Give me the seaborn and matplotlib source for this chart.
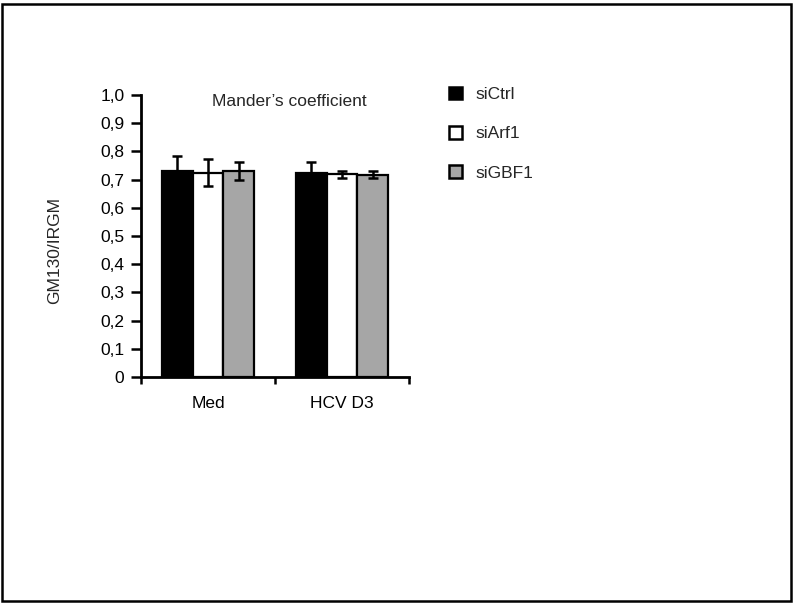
import matplotlib
matplotlib.use("Agg")
import matplotlib.pyplot as plt
import matplotlib.patches as mpatches
import pandas as pd
import seaborn as sns

# values
conditions = ["Med", "HCV D3"]
groups = ["siCtrl", "siArf1", "siGBF1"]
means_ctrl = [0.732, 0.722]
means_arf1 = [0.725, 0.719]
means_gbf1 = [0.730, 0.717]
err_ctrl = [0.053, 0.040]
err_arf1 = [0.048, 0.012]
err_gbf1 = [0.033, 0.013]
yticks = [0, 0.1, 0.2, 0.3, 0.4, 0.5, 0.6, 0.7, 0.8, 0.9, 1.0]

colors = {"siCtrl": "#000000", "siArf1": "#ffffff", "siGBF1": "#a6a6a6"}
FS = 12.5

df = pd.DataFrame({
    "condition": conditions * 3,
    "group": [g for g in groups for _ in conditions],
    "value": means_ctrl + means_arf1 + means_gbf1,
    "err": err_ctrl + err_arf1 + err_gbf1,
})

sns.set_style("white")
plt.rcParams["font.family"] = ["Liberation Sans", "DejaVu Sans"]

fig = plt.figure(figsize=(7.96, 6.04), dpi=100)
W, H = 796, 604
ax = fig.add_axes([141 / W, 1 - 377 / H, (409 - 141) / W, (377 - 95) / H])

sns.barplot(df, x="condition", y="value", hue="group", order=conditions,
            hue_order=groups, palette=colors, saturation=1, width=0.69,
            edgecolor="black", linewidth=1.6, errorbar=None, legend=False, ax=ax)

# error bars on top of each bar, positioned from the drawn patches
for container, g in zip(ax.containers, groups):
    sub = df[df.group == g].set_index("condition").loc[conditions]
    xs = [p.get_x() + p.get_width() / 2 for p in container]
    ax.errorbar(xs, sub["value"], yerr=sub["err"], fmt="none", ecolor="black",
                elinewidth=1.8, capsize=3.8, capthick=1.8, zorder=5)

ax.set_xlim(-0.5, 1.5)
ax.set_ylim(0, 1.0)
ax.set_yticks(yticks)
ax.set_yticklabels(["0"] + [f"{v:.1f}".replace(".", ",") for v in yticks[1:]])
ax.set_xticks([0, 1])
ax.set_xticklabels(conditions)
ax.set_xticks([-0.5, 0.5, 1.5], minor=True)
ax.tick_params(axis="x", which="major", bottom=True, length=0, pad=14, labelsize=FS)
ax.tick_params(axis="x", which="minor", bottom=True, length=5, width=1.8,
               direction="out", color="black")
ax.tick_params(axis="y", left=True, length=7, width=1.8, direction="out",
               color="black", labelsize=FS, pad=5)
ax.tick_params(axis="both", labelcolor="black")
ax.set_xlabel("")
ax.set_ylabel("")
for s in ["top", "right"]:
    ax.spines[s].set_visible(False)
for s in ["left", "bottom"]:
    ax.spines[s].set_color("black")
    ax.spines[s].set_linewidth(2)

ax.text(0.61, 0.978, "Mander\u2019s coefficient", ha="center", va="center", fontsize=FS)
fig.text(55 / W, 1 - 250 / H, "GM130/IRGM", rotation=90, ha="center", va="center",
         fontsize=FS)

handles = [mpatches.Patch(facecolor=colors[g], edgecolor="black", linewidth=1.8)
           for g in groups]
fig.legend(handles, groups, loc="upper left", bbox_to_anchor=(433 / W, 1 - 71 / H),
           frameon=False, fontsize=FS, handlelength=0.75, handleheight=0.75,
           handletextpad=0.8, labelspacing=1.38)

# outer frame around the whole figure
fig.patches.append(mpatches.Rectangle((1.5 / W, 1 - 601 / H), (791 - 1.5) / W,
                                      (601 - 3.5) / H, transform=fig.transFigure,
                                      fill=False, edgecolor="black", linewidth=1.8))

fig.savefig("out.png", dpi=100)
